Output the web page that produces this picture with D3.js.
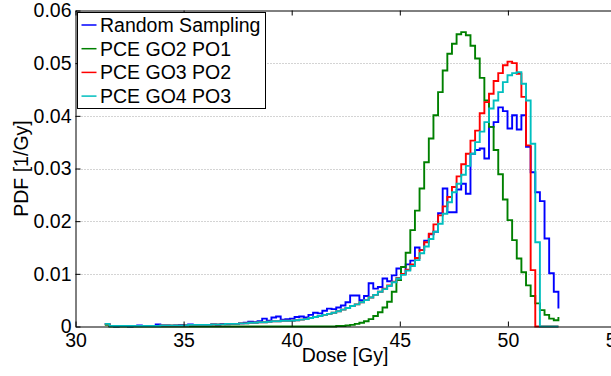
<!DOCTYPE html>
<html>
<head>
<meta charset="utf-8">
<script src="https://cdn.jsdelivr.net/npm/d3@7"></script>
<style>
  body { margin: 0; background: #fff; }
  text { font-family: "Liberation Sans", Arial, sans-serif; }
</style>
</head>
<body>
<svg></svg>
<script>
// histogram bins (Gy), 98 bins, each series has 98 bin heights + stairs end point
var binStart = 31.355
var binWidth = 0.2141
var nBins = 98

var seriesNames = ["Random Sampling", "PCE GO2 PO1", "PCE GO3 PO2", "PCE GO4 PO3"]
var seriesColors = ["#0000ff", "#008000", "#ff0000", "#00bfbf"]

var randomSampling = [
  0.0005,0.0001,0,0.0001,0.0001,0,0.0001,0.0002,0.0001,0.0001,
  0.0001,0.0004,0.0002,0.0002,0.0001,0.0002,0.0003,0.0002,0.0004,0.0003,
  0.0003,0.0002,0.0003,0.0004,0.0003,0.0005,0.0004,0.0005,0.0005,0.0006,
  0.0007,0.0009,0.0008,0.0010,0.0015,0.0011,0.0017,0.0019,0.0013,0.0014,
  0.0015,0.0018,0.0019,0.0017,0.0022,0.0026,0.0025,0.0030,0.0034,0.0033,
  0.0036,0.0040,0.0046,0.0059,0.0059,0.0050,0.0058,0.0082,0.0072,0.0075,
  0.0091,0.0086,0.0097,0.0110,0.0100,0.0118,0.0125,0.0150,0.0145,0.0163,
  0.0175,0.0180,0.0215,0.0262,0.0217,0.0217,0.0260,0.0271,0.0252,0.0328,
  0.0335,0.0338,0.0319,0.0379,0.0388,0.0416,0.0409,0.0376,0.0401,0.0374,
  0.0401,0.0341,0.0293,0.0255,0.0238,0.0167,0.0101,0.0066,0.0034
]
var pceGO2 = [
  0.0003,0,0,0,0,0,0,0,0,0,
  0,0,0,0,0,0,0,0,0,0,
  0,0,0,0,0,0,0,0,0,0,
  0,0,0,0,0,0,0,0,0,0,
  0,0,0,0,0,0,0,0,0,0,
  0.0001,0.0001,0.0002,0.0003,0.0005,0.0007,0.0010,0.0014,0.0020,0.0027,
  0.0036,0.0047,0.0066,0.0088,0.0113,0.0140,0.0183,0.0220,0.0262,0.0312,
  0.0357,0.0401,0.0445,0.0486,0.0518,0.0537,0.0555,0.0559,0.0553,0.0533,
  0.0509,0.0472,0.0429,0.0379,0.0335,0.0289,0.0241,0.0202,0.0164,0.0129,
  0.0103,0.0078,0.0058,0.0044,0.0031,0.0022,0.0015,0.0012,0.0018
]
var pceGO3 = [
  0.0005,0.0001,0.0001,0.0001,0.0001,0.0001,0.0001,0.0001,0.0001,0.0001,
  0.0001,0.0001,0.0002,0.0002,0.0002,0.0002,0.0002,0.0002,0.0003,0.0003,
  0.0003,0.0003,0.0003,0.0004,0.0004,0.0004,0.0005,0.0005,0.0005,0.0006,
  0.0006,0.0007,0.0007,0.0008,0.0008,0.0009,0.0010,0.0010,0.0011,0.0011,
  0.0011,0.0012,0.0013,0.0014,0.0016,0.0018,0.0020,0.0022,0.0024,0.0026,
  0.0029,0.0032,0.0035,0.0039,0.0042,0.0046,0.0050,0.0055,0.0060,0.0066,
  0.0072,0.0078,0.0085,0.0092,0.0100,0.0108,0.0118,0.0130,0.0145,0.0160,
  0.0176,0.0194,0.0211,0.0228,0.0246,0.0265,0.0285,0.0308,0.0328,0.0353,
  0.0372,0.0405,0.0426,0.0442,0.0466,0.0481,0.0496,0.0503,0.0500,0.0480,
  0.0436,0.0344,0.0107,0,0,0,0,0,0
]
var pceGO4 = [
  0.0005,0.0001,0.0001,0.0001,0.0001,0.0001,0.0001,0.0001,0.0001,0.0001,
  0.0001,0.0001,0.0002,0.0002,0.0002,0.0002,0.0002,0.0002,0.0003,0.0003,
  0.0003,0.0003,0.0003,0.0004,0.0004,0.0004,0.0005,0.0005,0.0005,0.0006,
  0.0006,0.0007,0.0007,0.0008,0.0008,0.0009,0.0010,0.0010,0.0011,0.0011,
  0.0011,0.0012,0.0013,0.0014,0.0016,0.0018,0.0020,0.0022,0.0024,0.0026,
  0.0029,0.0032,0.0035,0.0039,0.0042,0.0046,0.0050,0.0055,0.0060,0.0066,
  0.0071,0.0077,0.0084,0.0091,0.0098,0.0106,0.0115,0.0126,0.0139,0.0152,
  0.0166,0.0180,0.0195,0.0214,0.0236,0.0255,0.0271,0.0288,0.0305,0.0328,
  0.0350,0.0370,0.0388,0.0414,0.0429,0.0445,0.0464,0.0477,0.0481,0.0483,
  0.0461,0.0429,0.0347,0.0160,0,0,0,0,0
]

var xTicks = [30, 35, 40, 45, 50, 55]
var yTicks = [0, 0.01, 0.02, 0.03, 0.04, 0.05, 0.06]

var dimensions = {
    width: 611,
    height: 376,
    margin: { top: 10.5, bottom: 49.5, left: 75.5, right: -5 }
}
var plotRight = dimensions.width - dimensions.margin.right
var plotBottom = dimensions.height - dimensions.margin.bottom

var svg = d3.select("svg")
            .attr("width", dimensions.width)
            .attr("height", dimensions.height)

var x = d3.scaleLinear().domain([30, 55]).range([dimensions.margin.left, plotRight])
var y = d3.scaleLinear().domain([0, 0.06]).range([plotBottom, dimensions.margin.top])

var edges = d3.range(nBins + 1).map(k => binStart + k * binWidth)

// dotted grid
svg.append("g")
   .selectAll("line")
   .data(yTicks.slice(1, -1))
   .enter()
   .append("line")
   .attr("x1", dimensions.margin.left)
   .attr("x2", plotRight)
   .attr("y1", d => Math.round(y(d)) + 0.5)
   .attr("y2", d => Math.round(y(d)) + 0.5)
   .attr("stroke", "#a8a8a8")
   .attr("stroke-dasharray", "1,2")

// histogram stairs
var stairs = d3.line()
               .x((d, i) => x(edges[i]))
               .y(d => y(d))
               .curve(d3.curveStepAfter)

var allSeries = [randomSampling, pceGO2, pceGO3, pceGO4]
svg.append("g")
   .selectAll("path")
   .data(allSeries)
   .enter()
   .append("path")
   .attr("d", d => stairs(d))
   .attr("fill", "none")
   .attr("stroke", (d, i) => seriesColors[i])
   .attr("stroke-width", 1.9)

// axes, ticks inward
var fontSize = "19.5px"
function styleAxis(g) {
    g.selectAll("text").style("font-size", fontSize).attr("fill", "#000")
    g.selectAll("line").attr("stroke", "#000")
    g.select(".domain").attr("stroke", "#000")
}

svg.append("g")
   .attr("transform", "translate(0," + plotBottom + ")")
   .call(d3.axisBottom(x).tickValues(xTicks).tickSize(-5).tickSizeOuter(0).tickPadding(7))
   .call(styleAxis)

svg.append("g")
   .attr("transform", "translate(0," + dimensions.margin.top + ")")
   .call(d3.axisTop(x).tickValues(xTicks).tickSize(-5).tickSizeOuter(0).tickFormat(""))
   .call(styleAxis)

svg.append("g")
   .attr("transform", "translate(" + dimensions.margin.left + ",0)")
   .call(d3.axisLeft(y).tickValues(yTicks).tickSize(-5).tickSizeOuter(0).tickPadding(4)
           .tickFormat(d => d === 0 ? "0" : d.toFixed(2)))
   .call(styleAxis)

// axis labels
svg.append("text")
   .attr("x", 345)
   .attr("y", 362)
   .attr("text-anchor", "middle")
   .style("font-size", fontSize)
   .text("Dose [Gy]")

svg.append("text")
   .attr("transform", "translate(27.5," + ((dimensions.margin.top + plotBottom) / 2) + ") rotate(-90)")
   .attr("text-anchor", "middle")
   .style("font-size", fontSize)
   .text("PDF [1/Gy]")

// legend
var legend = svg.append("g")
legend.append("rect")
      .attr("x", 77.5)
      .attr("y", 12.5)
      .attr("width", 188)
      .attr("height", 96)
      .attr("fill", "#fff")
      .attr("stroke", "#000")

var rows = legend.selectAll(".row")
                 .data(seriesNames)
                 .enter()
                 .append("g")
                 .attr("class", "row")
                 .attr("transform", (d, i) => "translate(0," + (25 + i * 23.7) + ")")
rows.append("line")
    .attr("x1", 81.5)
    .attr("x2", 96.5)
    .attr("stroke", (d, i) => seriesColors[i])
    .attr("stroke-width", 1.5)
rows.append("text")
    .attr("x", 100)
    .attr("dy", "0.35em")
    .style("font-size", fontSize)
    .text(d => d)
</script>
</body>
</html>
